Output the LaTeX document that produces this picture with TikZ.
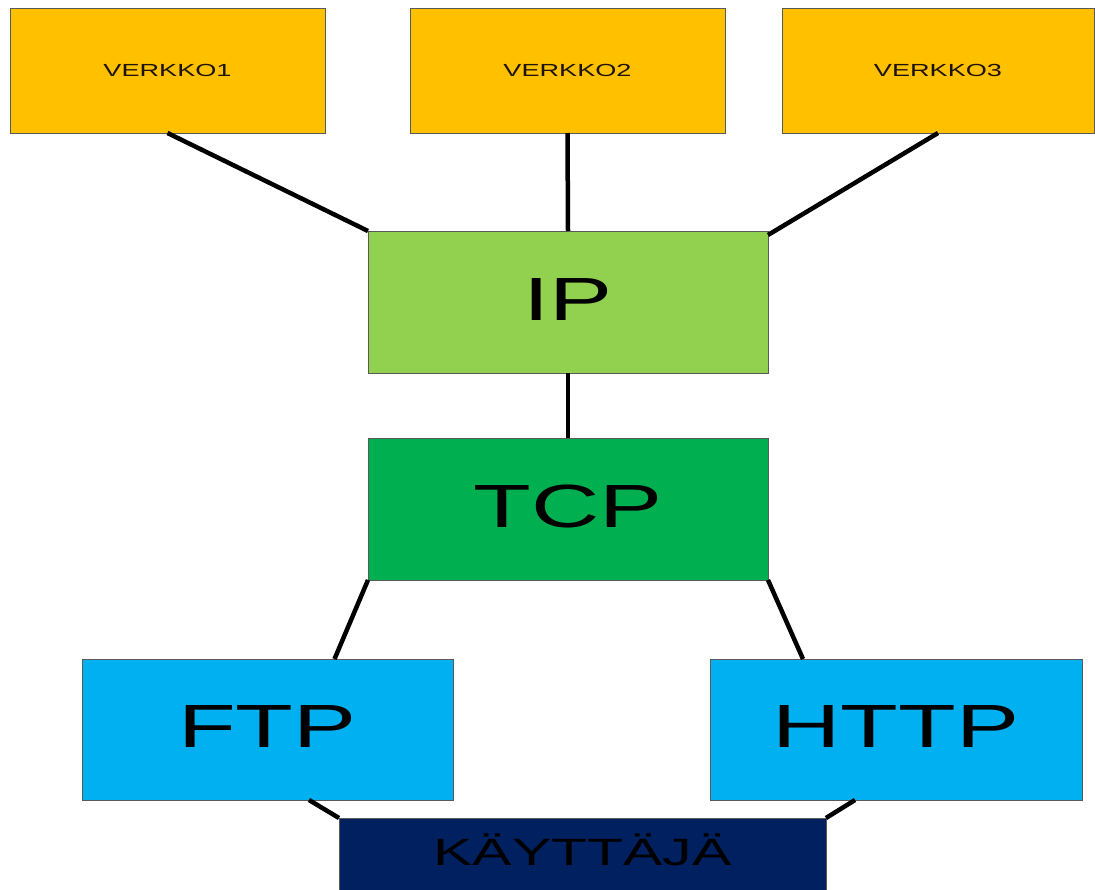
\documentclass[tikz,border=0pt]{standalone}
\usepackage{fontspec}
\newfontfamily\boxfont[FakeStretch=1.55]{Liberation Sans}
\definecolor{netorange}{HTML}{FFC000}
\definecolor{iplime}{HTML}{92D050}
\definecolor{tcpgreen}{HTML}{00B050}
\definecolor{appblue}{HTML}{00B0F0}
\definecolor{usernavy}{HTML}{002060}
\tikzset{
  layer/.style={draw=black!65, line width=0.8pt, inner sep=0pt, outer sep=0pt,
    font=\boxfont, anchor=center},
  netbox/.style={layer, fill=netorange, minimum width=315pt, minimum height=125pt,
    font=\boxfont\fontsize{17.5}{17.5}\selectfont, text height=12.5pt, text depth=0pt, text=black!85!brown},
  bigbox/.style={layer, minimum width=400pt, minimum height=142pt,
    font=\boxfont\fontsize{61}{61}\selectfont, text height=44pt, text depth=8pt},
  link/.style={line width=4.5pt, black}
}
\begin{document}
\begin{tikzpicture}[x=1pt, y=-1pt]
  \clip (0,0) rectangle (1095,889);
  \fill[white] (0,0) rectangle (1095,889);

  % networks
  \node[netbox] (v1) at (167.5,70.5) {VERKKO1};
  \node[netbox] (v2) at (567.5,70.5) {VERKKO2};
  \node[netbox, minimum width=312pt] (v3) at (938,70.5) {VERKKO3};

  % protocol layers
  \node[bigbox, fill=iplime] (ip) at (568,302) {IP};
  \node[bigbox, fill=tcpgreen] (tcp) at (568,509) {TCP};
  \node[bigbox, fill=appblue, minimum width=371pt, minimum height=141pt] (ftp) at (267.5,729.5) {FTP};
  \node[bigbox, fill=appblue, minimum width=372pt, minimum height=141pt] (http) at (896,729.5) {HTTP};

  % user
  \node[layer, fill=usernavy, minimum width=487pt, minimum height=80pt,
        font=\boxfont\fontsize{38}{38}\selectfont, text height=27pt, text depth=12pt] (user) at (582.5,858) {KÄYTTÄJÄ};

  % connections
  \draw[link] (v1.south) -- (ip.north west);
  \draw[link] (v2.south) -- (ip.north);
  \draw[link] (v3.south) -- ([yshift=-4pt]ip.north east);
  \draw[link] (ip.south) -- (tcp.north);
  \draw[link] (tcp.south west) -- ([xshift=67pt]ftp.north);
  \draw[link] (tcp.south east) -- ([xshift=-93pt]http.north);
  \draw[link] ([xshift=41.5pt]ftp.south) -- (user.north west);
  \draw[link] ([xshift=-41pt]http.south) -- (user.north east);
\end{tikzpicture}
\end{document}
